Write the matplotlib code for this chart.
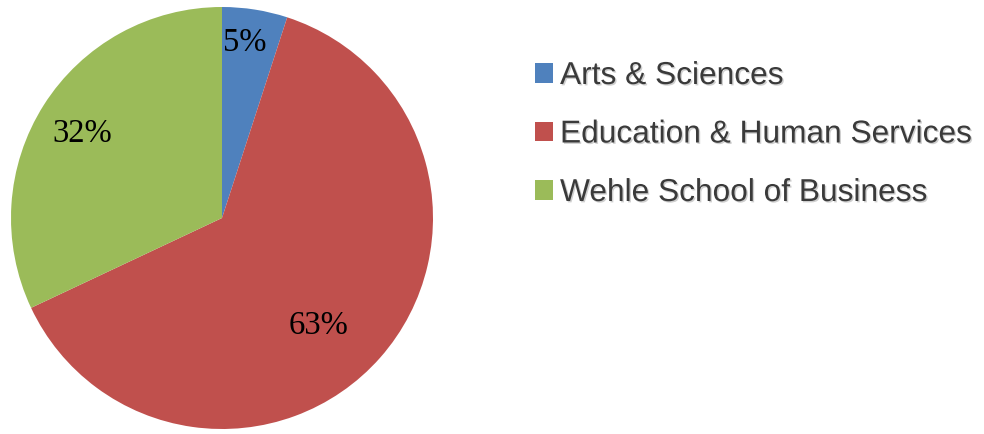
import matplotlib
matplotlib.use('Agg')
from matplotlib import pyplot as plt
from matplotlib import patheffects as pe

# data
colleges = ['Arts & Sciences', 'Education & Human Services',
            'Wehle School of Business']
shares   = [5, 63, 32]
colors   = ['#4F81BD', '#C0504D', '#9BBB59']

# label positions (data coords, pie radius = 1)
label_xy = [(0.11, 0.83), (0.46, -0.51), (-0.66, 0.40)]

fig = plt.figure(figsize=(9.84, 4.34), dpi=100)
W, H = 984., 434.
cx, cy, r = 222., 218., 211.
ax = fig.add_axes([(cx - r)/W, (H - cy - r)/H, 2*r/W, 2*r/H])

wedges, texts, autotexts = ax.pie(shares, colors=colors, startangle=90,
                                  counterclock=False, radius=1.,
                                  autopct='%d%%', pctdistance=0.8,
                                  wedgeprops=dict(linewidth=0),
                                  textprops=dict(family='Liberation Serif',
                                                 fontsize=23.5, color='black'))
for t, xy in zip(autotexts, label_xy):
    t.set_position(xy)
ax.set_xlim(-1, 1)
ax.set_ylim(-1, 1)
ax.set_aspect('equal')

# legend
leg = fig.legend(wedges, colleges, loc='center left',
                 bbox_to_anchor=(535./W, 1 - 134.5/H),
                 frameon=False, borderpad=0, borderaxespad=0,
                 handlelength=0.57, handleheight=0.57, handletextpad=0.22,
                 labelspacing=0.9,
                 prop=dict(family='Liberation Sans', size=22.8))
for h in leg.legend_handles:
    h.set_linewidth(0)
for t in leg.get_texts():
    t.set_color('#3a3a3a')
    t.set_path_effects([pe.withSimplePatchShadow(offset=(1, -1), shadow_rgbFace='#b0b0b0', alpha=0.6)])

fig.savefig('out.png', dpi=100)
